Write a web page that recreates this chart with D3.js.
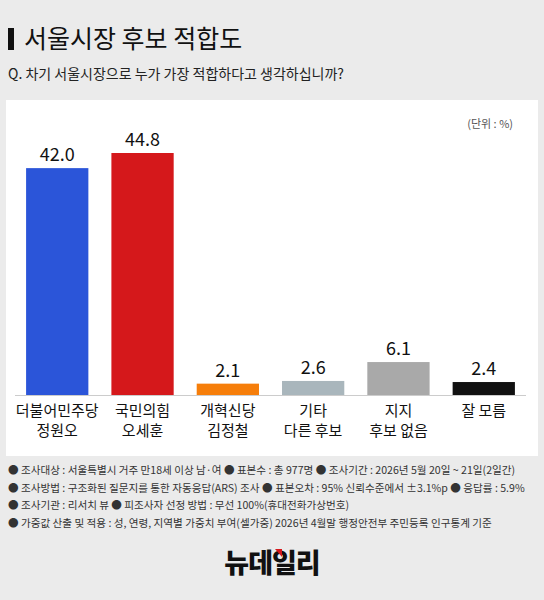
<!DOCTYPE html>
<html><head><meta charset="utf-8">
<script src="https://cdn.jsdelivr.net/npm/d3@7"></script>
<style>
body { margin: 0; background: #ebebeb; }
svg { display: block; font-family: "Noto Sans CJK KR", "Noto Sans", sans-serif; }
</style></head>
<body><div id="chart"></div>
<script>
const candidates = [['더불어민주당', '정원오'], ['국민의힘', '오세훈'], ['개혁신당', '김정철'], ['기타', '다른 후보'], ['지지', '후보 없음'], ['잘 모름']];
const values = [42.0, 44.8, 2.1, 2.6, 6.1, 2.4];
const colors = ['#2b55d9', '#d5181b', '#f67e0a', '#a9b6bc', '#a9a9a9', '#111111'];
const notes = [
    '● 조사대상 : 서울특별시 거주 만18세 이상 남·여  ● 표본수 : 총 977명 ● 조사기간 : 2026년 5월 20일 ~ 21일(2일간)',
    '● 조사방법 : 구조화된 질문지를 통한 자동응답(ARS) 조사 ● 표본오차 : 95% 신뢰수준에서 ±3.1%p ● 응답률 : 5.9%',
    '● 조사기관 : 리서치 뷰 ● 피조사자 선정 방법 : 무선 100%(휴대전화가상번호)',
    '● 가중값 산출 및 적용 : 성, 연령, 지역별 가중치 부여(셀가중) 2026년 4월말 행정안전부 주민등록 인구통계 기준',
];

const W = 544, H = 600;
const svg = d3.select('#chart').append('svg').attr('width', W).attr('height', H);

svg.append('rect').attr('x', 8).attr('y', 28).attr('width', 6).attr('height', 22).attr('fill', '#111');
svg.append('text').attr('x', 24).attr('y', 48).attr('font-size', 25).attr('fill', '#111').text('서울시장 후보 적합도');
svg.append('text').attr('x', 8).attr('y', 79).attr('font-size', 14).attr('fill', '#222')
    .text('Q. 차기 서울시장으로 누가 가장 적합하다고 생각하십니까?');

svg.append('rect').attr('x', 6).attr('y', 100).attr('width', 532).attr('height', 356).attr('fill', '#fff');
svg.append('text').attr('x', 513).attr('y', 128).attr('text-anchor', 'end').attr('font-size', 11).attr('fill', '#555').text('(단위 : %)');

const base = 395;
const x = d3.scaleBand().domain(d3.range(values.length)).range([15, 526]).paddingInner(0.27).paddingOuter(0.13);
const y = d3.scaleLinear().domain([0, 44.8]).range([base, 153]);

const g = svg.append('g');
g.selectAll('rect.bar').data(values).join('rect').attr('class', 'bar')
    .attr('x', (d, i) => x(i)).attr('y', d => y(d))
    .attr('width', x.bandwidth()).attr('height', d => base - y(d))
    .attr('fill', (d, i) => colors[i]);
g.selectAll('text.val').data(values).join('text').attr('class', 'val')
    .attr('x', (d, i) => x(i) + x.bandwidth() / 2).attr('y', d => y(d) - 7)
    .attr('text-anchor', 'middle').attr('font-size', 18).attr('fill', '#111')
    .text(d => d.toFixed(1));
svg.append('line').attr('x1', 15).attr('x2', 526).attr('y1', base + 0.5).attr('y2', base + 0.5).attr('stroke', '#ccc');

candidates.forEach((lines, i) => {
    const t = g.append('text').attr('x', x(i) + x.bandwidth() / 2).attr('text-anchor', 'middle').attr('font-size', 15).attr('fill', '#111');
    lines.forEach((s, j) => t.append('tspan').attr('x', x(i) + x.bandwidth() / 2).attr('y', 416 + j * 20).text(s));
});

notes.forEach((s, i) => {
    svg.append('text').attr('x', 8).attr('y', 474 + i * 17.7).attr('font-size', 10.6).attr('fill', '#333').text(s);
});

svg.append('text').attr('x', 272).attr('y', 573).attr('text-anchor', 'middle').attr('font-size', 27).attr('font-weight', 900)
    .attr('letter-spacing', -1).attr('fill', '#111').text('뉴데일리');
svg.append('path').attr('d', 'M275,549 L282,549 L282,557 Z').attr('fill', '#d5181b');
</script></body></html>
